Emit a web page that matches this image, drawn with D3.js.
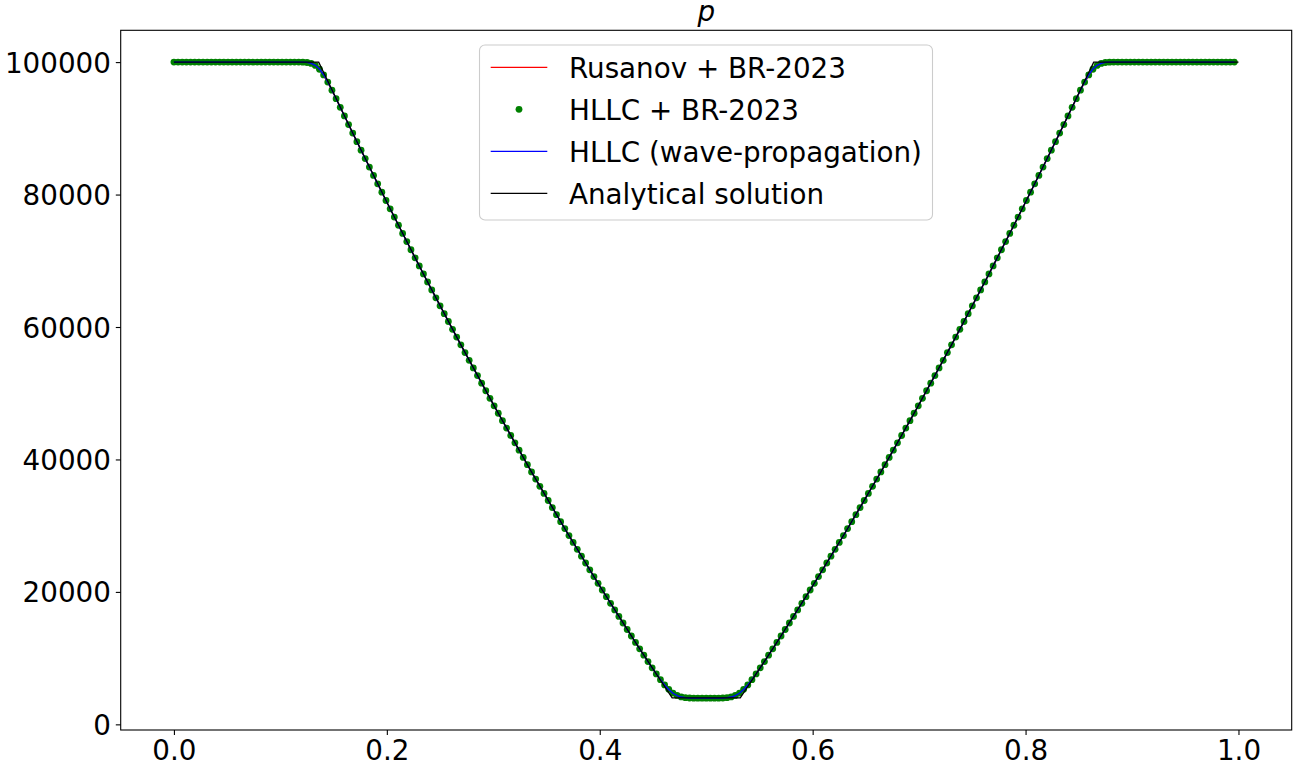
<!DOCTYPE html>
<html>
<head>
<meta charset="utf-8">
<script src="https://cdn.jsdelivr.net/npm/d3@7"></script>
<style>
  html, body { margin: 0; padding: 0; background: #ffffff; }
  svg { display: block; font-family: "DejaVu Sans", sans-serif; }
</style>
</head>
<body>
<svg id="chart" width="1298" height="767"></svg>
<script>
// ---------------- data ----------------
const cellCount = 256; // numerical cells, x = i / cellCount

const rusanovBR = [
100000,100000,100000,100000,100000,100000,100000,100000,100000,100000,
100000,100000,100000,100000,100000,100000,100000,100000,100000,100000,
100000,100000,100000,100000,100000,100000,100000,100000,100000,99998,
99993,99970,99900,99730,99380,98800,97960,96920,95730,94460,
93168,91869,90571,89277,87989,86705,85426,84151,82882,81617,
80356,79100,77850,76603,75362,74125,72893,71665,70443,69225,
68011,66803,65599,64400,63205,62015,60830,59650,58474,57303,
56137,54975,53819,52666,51519,50376,49238,48105,46976,45852,
44733,43619,42509,41404,40303,39207,38116,37030,35949,34872,
33800,32732,31669,30611,29558,28509,27465,26426,25392,24362,
23337,22316,21301,20290,19284,18282,17285,16293,15306,14323,
13345,12372,11403,10441,9486,8545,7640,6790,6010,5350,
4780,4410,4180,4050,3990,3962,3953,3950,3950,3950,
3953,3962,3990,4050,4180,4410,4780,5350,6010,6790,
7640,8545,9486,10441,11403,12372,13345,14323,15306,16293,
17285,18282,19284,20290,21301,22316,23337,24362,25392,26426,
27465,28509,29558,30611,31669,32732,33800,34872,35949,37030,
38116,39207,40303,41404,42509,43619,44733,45852,46976,48105,
49238,50376,51519,52666,53819,54975,56137,57303,58474,59650,
60830,62015,63205,64400,65599,66803,68011,69225,70443,71665,
72893,74125,75362,76603,77850,79100,80356,81617,82882,84151,
85426,86705,87989,89277,90571,91869,93168,94460,95730,96920,
97960,98800,99380,99730,99900,99970,99993,99998,100000,100000,
100000,100000,100000,100000,100000,100000,100000,100000,100000,100000,
100000,100000,100000,100000,100000,100000,100000,100000,100000,100000,
100000,100000,100000,100000,100000,100000
];

const hllcBR = [
100000,100000,100000,100000,100000,100000,100000,100000,100000,100000,
100000,100000,100000,100000,100000,100000,100000,100000,100000,100000,
100000,100000,100000,100000,100000,100000,100000,100000,100000,100000,
99997,99985,99941,99807,99494,98922,98065,96979,95755,94471,
93170,91869,90571,89277,87989,86705,85426,84151,82882,81617,
80356,79100,77850,76603,75362,74125,72893,71665,70443,69225,
68011,66803,65599,64400,63205,62015,60830,59650,58474,57303,
56137,54975,53819,52666,51519,50376,49238,48105,46976,45852,
44733,43619,42509,41404,40303,39207,38116,37030,35949,34872,
33800,32732,31669,30611,29558,28509,27465,26426,25392,24362,
23337,22316,21301,20290,19284,18282,17285,16293,15306,14323,
13345,12372,11403,10440,9484,8540,7620,6747,5955,5286,
4719,4363,4146,4031,3980,3959,3952,3950,3950,3950,
3952,3959,3980,4031,4146,4363,4719,5286,5955,6747,
7620,8540,9484,10440,11403,12372,13345,14323,15306,16293,
17285,18282,19284,20290,21301,22316,23337,24362,25392,26426,
27465,28509,29558,30611,31669,32732,33800,34872,35949,37030,
38116,39207,40303,41404,42509,43619,44733,45852,46976,48105,
49238,50376,51519,52666,53819,54975,56137,57303,58474,59650,
60830,62015,63205,64400,65599,66803,68011,69225,70443,71665,
72893,74125,75362,76603,77850,79100,80356,81617,82882,84151,
85426,86705,87989,89277,90571,91869,93170,94471,95755,96979,
98065,98922,99494,99807,99941,99985,99997,100000,100000,100000,
100000,100000,100000,100000,100000,100000,100000,100000,100000,100000,
100000,100000,100000,100000,100000,100000,100000,100000,100000,100000,
100000,100000,100000,100000,100000,100000
];

const hllcWave = [
100000,100000,100000,100000,100000,100000,100000,100000,100000,100000,
100000,100000,100000,100000,100000,100000,100000,100000,100000,100000,
100000,100000,100000,100000,100000,100000,100000,100000,100000,100000,
99997,99986,99945,99815,99510,98950,98090,96990,95760,94473,
93171,91869,90571,89277,87989,86705,85426,84151,82882,81617,
80356,79100,77850,76603,75362,74125,72893,71665,70443,69225,
68011,66803,65599,64400,63205,62015,60830,59650,58474,57303,
56137,54975,53819,52666,51519,50376,49238,48105,46976,45852,
44733,43619,42509,41404,40303,39207,38116,37030,35949,34872,
33800,32732,31669,30611,29558,28509,27465,26426,25392,24362,
23337,22316,21301,20290,19284,18282,17285,16293,15306,14323,
13345,12372,11403,10440,9484,8538,7615,6740,5940,5260,
4690,4340,4130,4025,3978,3958,3952,3950,3950,3950,
3952,3958,3978,4025,4130,4340,4690,5260,5940,6740,
7615,8538,9484,10440,11403,12372,13345,14323,15306,16293,
17285,18282,19284,20290,21301,22316,23337,24362,25392,26426,
27465,28509,29558,30611,31669,32732,33800,34872,35949,37030,
38116,39207,40303,41404,42509,43619,44733,45852,46976,48105,
49238,50376,51519,52666,53819,54975,56137,57303,58474,59650,
60830,62015,63205,64400,65599,66803,68011,69225,70443,71665,
72893,74125,75362,76603,77850,79100,80356,81617,82882,84151,
85426,86705,87989,89277,90571,91869,93171,94473,95760,96990,
98090,98950,99510,99815,99945,99986,99997,100000,100000,100000,
100000,100000,100000,100000,100000,100000,100000,100000,100000,100000,
100000,100000,100000,100000,100000,100000,100000,100000,100000,100000,
100000,100000,100000,100000,100000,100000
];

const analyticX = [0, 0.136, 0.1692, 0.2024, 0.2356, 0.2688, 0.302, 0.3352, 0.3684, 0.4016, 0.4348, 0.468,
                   0.532, 0.5652, 0.5984, 0.6316, 0.6648, 0.698, 0.7312, 0.7644, 0.7976, 0.8308, 0.864, 1];
const analyticP = [100000, 100000, 88871, 78081, 67632, 57522, 47752, 38322, 29232, 20481, 12071, 4000,
                   4000, 12071, 20481, 29232, 38322, 47752, 57522, 67632, 78081, 88871, 100000, 100000];

const xTicks = [0.0, 0.2, 0.4, 0.6, 0.8, 1.0];
const yTicks = [0, 20000, 40000, 60000, 80000, 100000];
const titleText = "p";
const legendLabels = ["Rusanov + BR-2023", "HLLC + BR-2023", "HLLC (wave-propagation)", "Analytical solution"];

// ---------------- layout ----------------
const svg = d3.select("#chart");
const plot = { left: 120.7, top: 30.3, right: 1291.7, bottom: 730 };
const fontPx = 27.78;

const cellX = d3.range(cellCount).map(i => i / cellCount);

// matplotlib-like 5% margins
const allP = analyticP.concat(rusanovBR, hllcBR, hllcWave);
const pMin = d3.min(allP), pMax = d3.max(allP);
const pPad = (pMax - pMin) * 0.05;
const xPad = (1 - 0) * 0.05;

const x = d3.scaleLinear().domain([0 - xPad, 1 + xPad]).range([plot.left, plot.right]);
const y = d3.scaleLinear().domain([pMin - pPad, pMax + pPad]).range([plot.bottom, plot.top]);

// clip
svg.append("defs").append("clipPath").attr("id", "clip")
  .append("rect").attr("x", plot.left).attr("y", plot.top)
  .attr("width", plot.right - plot.left).attr("height", plot.bottom - plot.top);

const g = svg.append("g").attr("clip-path", "url(#clip)");

const lineGen = d3.line().x(d => x(d[0])).y(d => y(d[1]));

// Rusanov (red line)
g.append("path")
  .datum(cellX.map((xv, i) => [xv, rusanovBR[i]]))
  .attr("d", lineGen).attr("fill", "none").attr("stroke", "#ff0000").attr("stroke-width", 1.3);

// HLLC + BR (green dots)
g.append("g").selectAll("circle")
  .data(cellX.map((xv, i) => [xv, hllcBR[i]]))
  .join("circle")
  .attr("cx", d => x(d[0])).attr("cy", d => y(d[1])).attr("r", 3.4)
  .attr("fill", "#008000");

// HLLC wave propagation (blue line)
g.append("path")
  .datum(cellX.map((xv, i) => [xv, hllcWave[i]]))
  .attr("d", lineGen).attr("fill", "none").attr("stroke", "#0000ff").attr("stroke-width", 1.3);

// Analytical (black line)
g.append("path")
  .datum(analyticX.map((xv, i) => [xv, analyticP[i]]))
  .attr("d", lineGen).attr("fill", "none").attr("stroke", "#000000").attr("stroke-width", 1.3);

// axes
const xAxis = d3.axisBottom(x).tickValues(xTicks).tickFormat(d3.format(".1f")).tickSizeOuter(0).tickSize(4.9).tickPadding(4.9);
const yAxis = d3.axisLeft(y).tickValues(yTicks).tickFormat(d3.format("d")).tickSizeOuter(0).tickSize(4.9).tickPadding(4.9);

const gx = svg.append("g").attr("transform", `translate(0,${plot.bottom})`).call(xAxis);
const gy = svg.append("g").attr("transform", `translate(${plot.left},0)`).call(yAxis);
[gx, gy].forEach(a => {
  a.select(".domain").remove();
  a.selectAll(".tick line").attr("stroke", "#000").attr("stroke-width", 1.1);
  a.selectAll(".tick text").attr("fill", "#000").style("font-size", fontPx + "px")
    .style("font-family", "'DejaVu Sans', sans-serif");
});
gx.selectAll(".tick text").attr("dy", null).attr("y", 0).attr("dominant-baseline", "auto")
  .attr("transform", "translate(0,30)");
gy.selectAll(".tick text").attr("dy", null).attr("transform", "translate(0,10)");

// frame (spines)
svg.append("rect")
  .attr("x", plot.left).attr("y", plot.top)
  .attr("width", plot.right - plot.left).attr("height", plot.bottom - plot.top)
  .attr("fill", "none").attr("stroke", "#000").attr("stroke-width", 1.1);

// title
svg.append("text")
  .attr("x", (plot.left + plot.right) / 2).attr("y", 21)
  .attr("text-anchor", "middle")
  .style("font-size", fontPx + "px").style("font-style", "italic")
  .style("font-family", "'DejaVu Sans', sans-serif")
  .text(titleText);

// legend
const leg = svg.append("g");
leg.append("rect")
  .attr("x", 479.5).attr("y", 45).attr("width", 453).attr("height", 175)
  .attr("rx", 5.5).attr("ry", 5.5)
  .attr("fill", "#ffffff").attr("fill-opacity", 0.8)
  .attr("stroke", "#cccccc").attr("stroke-width", 1.1);

const legColors = ["#ff0000", "#008000", "#0000ff", "#000000"];
const rowY = [67.3, 109.3, 151.3, 193.3];
legendLabels.forEach((lab, k) => {
  const ry = rowY[k];
  if (k === 1) {
    leg.append("circle").attr("cx", 519).attr("cy", ry).attr("r", 3.4).attr("fill", legColors[k]);
  } else {
    leg.append("line").attr("x1", 490.7).attr("x2", 547.3).attr("y1", ry).attr("y2", ry)
      .attr("stroke", legColors[k]).attr("stroke-width", 1.3);
  }
  leg.append("text").attr("x", 569).attr("y", ry + 10.4)
    .style("font-size", fontPx + "px")
    .style("font-family", "'DejaVu Sans', sans-serif")
    .attr("fill", "#000")
    .text(lab);
});
</script>
</body>
</html>
